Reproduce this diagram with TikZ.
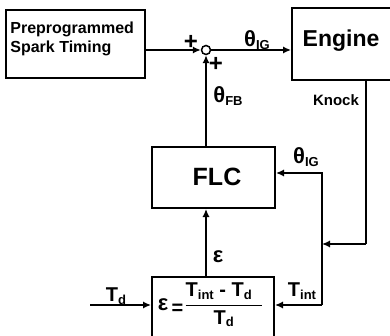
\documentclass[tikz,border=0pt]{standalone}
\usepackage{fontspec}
\usepackage{amsmath}
\setmainfont{Liberation Sans}
\usetikzlibrary{arrows.meta}

\tikzset{
  blk/.style={draw, line width=1pt, inner sep=0pt},
  sig/.style={line width=0.75pt, -{Latex[length=4pt,width=3.6pt]}},
  wire/.style={line width=0.75pt},
  lbl/.style={font=\fontsize{10}{12}\selectfont\bfseries, inner sep=0pt}
}
\newcommand{\lo}[1]{\raisebox{-1.2pt}{\fontsize{6.5}{7}\selectfont\bfseries #1}}
\newcommand{\thsig}[1]{{\fontsize{11}{12}\selectfont θ}\lo{#1}}

\begin{document}
\begin{tikzpicture}[x=0.5pt, y=-0.5pt]
    \useasboundingbox (0,0) rectangle (390,336);
    % blocks
    \node[blk, minimum width=69.5pt, minimum height=34pt] (pre) at (75.5,44) {};
    \node[font=\fontsize{8}{9.5}\selectfont\bfseries, align=left, inner sep=0pt,
      anchor=north west] (pretext) at (10,21.5) {Preprogrammed\\Spark Timing};
    \node[blk, minimum width=50pt, minimum height=36pt] (eng) at (342,44) {};
    \node[font=\fontsize{11.5}{13}\selectfont\bfseries, inner sep=0pt, anchor=base]
      (engtext) at (341,47) {Engine};
    \node[blk, minimum width=61.5pt, minimum height=30.5pt] (flc) at (213.5,177.5) {};
    \node[font=\fontsize{12.5}{14}\selectfont\bfseries, inner sep=0pt, anchor=base]
      (flctext) at (217,185) {FLC};
    \node[blk, minimum width=61pt, minimum height=34pt] (errbox) at (213,311) {};
    \node[lbl] (eqn) at (211,305)
      {{\fontsize{11}{12}\selectfont ε}\,\raisebox{-2pt}{=}%
       $\dfrac{\text{\bfseries T\lo{int} - T\lo{d}}\hspace{5pt}}{\text{\bfseries T\lo{d}}}$};
    \node[draw, circle, minimum size=4.5pt, inner sep=0pt, line width=0.75pt] (sum) at (206,50) {};

    % helper points
    \coordinate (kc) at (366,244);
    \coordinate (tap) at (322,244);
    \coordinate (fbk) at (322,173);
    \coordinate (tin) at (322,305);
    \coordinate (tdin) at (90,305);

    % signals
    \draw[sig] (sum -| pre.east) -- (sum.west);
    \draw[sig] (sum.east) -- (sum -| eng.west);
    \draw[sig] (flc.north -| sum) -- (sum.south);
    \draw[sig] (errbox.north -| sum) -- (flc.south -| sum);
    \draw[wire] (kc |- eng.south) -- (kc);
    \draw[sig] (kc) -- (tap);
    \draw[sig] (tin) -- (fbk) -- (fbk -| flc.east);
    \draw[sig] (tin) -- (tin -| errbox.east);
    \draw[sig] (tdin) -- (tdin -| errbox.west);

    % labels
    \node[font=\fontsize{12}{12}\selectfont\bfseries, inner sep=0pt] (plusa) at (191,42) {+};
    \node[font=\fontsize{12}{12}\selectfont\bfseries, inner sep=0pt] (plusb) at (216,64) {+};
    \node[lbl] (thig) at (257,40) {\thsig{IG}};
    \node[lbl] (thfb) at (228,96) {\thsig{FB}};
    \node[font=\fontsize{7.5}{9}\selectfont\bfseries, inner sep=0pt] (knock) at (336,100) {Knock};
    \node[lbl] (thig2) at (306,157) {\thsig{IG}};
    \node[font=\fontsize{11}{12}\selectfont\bfseries, inner sep=0pt] (eps) at (218,257) {ε};
    \node[lbl] (tdlbl) at (116,296) {T\lo{d}};
    \node[lbl] (tintlbl) at (302,291) {T\lo{int}};
  \end{tikzpicture}
\end{document}
